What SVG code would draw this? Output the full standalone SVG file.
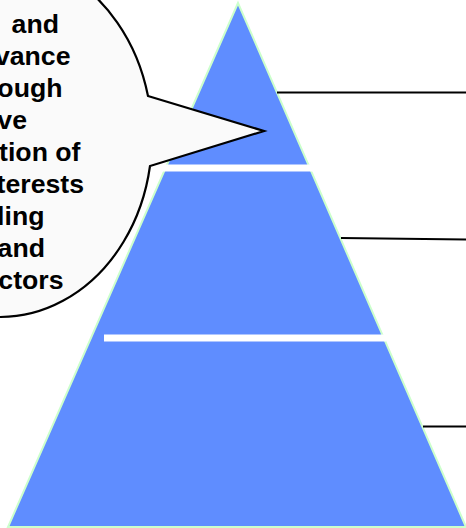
<svg xmlns="http://www.w3.org/2000/svg" width="466" height="528" viewBox="0 0 466 528">
<style>
.tier{fill:#5f8dff;stroke:#ccffcc;stroke-width:2}
.gap{fill:#ffffff}
.conn{stroke:#000;stroke-width:2;fill:none}
.bubble{fill:#fafafa;stroke:#000;stroke-width:2.2;stroke-linejoin:miter}
.t{font-family:"Liberation Sans",Arial,sans-serif;font-weight:bold;font-size:26.67px;fill:#000;text-anchor:end}
</style>
<rect width="466" height="528" fill="#ffffff"/>
<g id="pyramid">
<polygon class="tier" points="238,3 8,527 466,527"/>
<rect class="gap" x="160" y="164.5" width="154" height="7"/>
<rect class="gap" x="104" y="334.5" width="282" height="7"/>
</g>
<g id="connectors">
<line class="conn" x1="277" y1="92.5" x2="466" y2="92.5"/>
<line class="conn" x1="341" y1="238" x2="466" y2="239.5"/>
<line class="conn" x1="423" y1="426.5" x2="466" y2="426.5"/>
</g>
<g id="callout">
<path class="bubble" d="M148,96 L264,131 L150,166 A152 180 0 1 1 148,96 Z"/>
<text class="t" x="59" y="33">and</text>
<text class="t" x="70.5" y="65">vance</text>
<text class="t" x="62.5" y="97">ough</text>
<text class="t" x="27" y="129">ve</text>
<text class="t" x="80.5" y="161">tion of</text>
<text class="t" x="84" y="193">terests</text>
<text class="t" x="44.5" y="225">ling</text>
<text class="t" x="45" y="257">and</text>
<text class="t" x="63.5" y="289">ctors</text>
</g>
</svg>
